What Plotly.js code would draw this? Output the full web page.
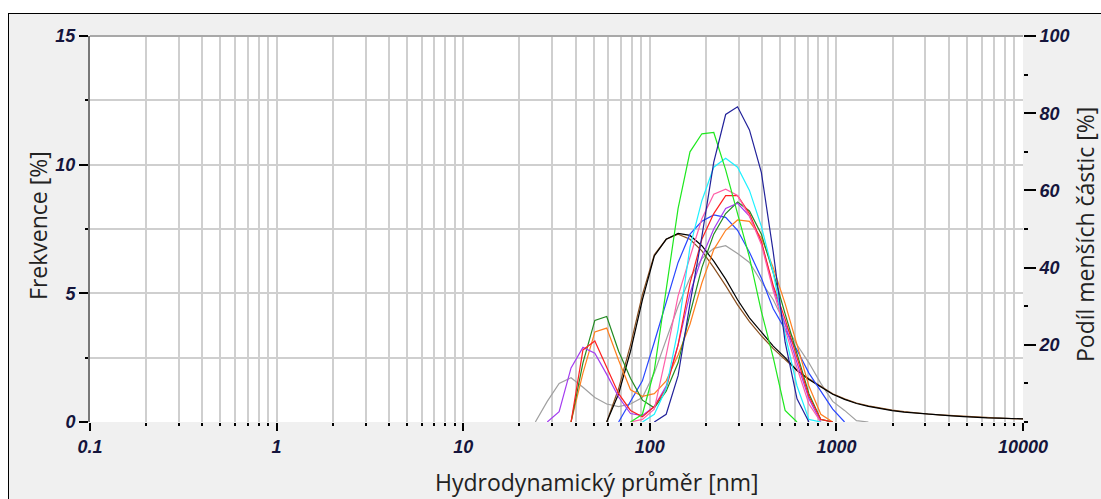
<!DOCTYPE html>
<html>
<head>
<meta charset="utf-8">
<script src="https://cdn.plot.ly/plotly-3.0.1.min.js"></script>
<style>
  html, body { margin:0; padding:0; background:#ffffff; }
  #frame { position:absolute; left:8px; top:13px; width:1100px; height:490px; background:#f0f0f0;
           border-left:1px solid #000; border-top:1px solid #000; }
  #chart { position:absolute; left:0; top:0; width:1101px; height:499px; }
</style>
</head>
<body>
<div id="frame"></div>
<div id="chart"></div>
<script>
// Particle size bins (nm)
const sizes = [21.04, 24.36, 28.21, 32.67, 37.84, 43.82, 50.75, 58.77, 68.06, 78.82,
  91.28, 105.7, 122.4, 141.8, 164.2, 190.1, 220.2, 255.0, 295.3, 342.0,
  396.1, 458.7, 531.2, 615.1, 712.4, 825.0, 955.4, 1106, 1281, 1484,
  1718, 1990, 2305, 2669, 3091, 3580, 4145, 4801, 5560, 6439,
  7456, 8635, 10000];
const _ = null;
// Frequency [%] per series
const navy = [_,_,_,_,_,_,_,_,_,_, _,0,0.3,1.8,4.6,7.2,10.1,11.95,12.25,11.35, 9.7,6.6,3.1,0.9,0,_,_,_,_,_, _,_,_,_,_,_,_,_,_,_, _,_,_];
const lime = [_,_,_,_,_,_,_,_,_,0, 0.3,2.0,5.2,8.3,10.5,11.2,11.25,9.8,8.1,6.4, 4.3,2.5,0.45,0,_,_,_,_,_,_, _,_,_,_,_,_,_,_,_,_, _,_,_];
const cyan = [_,_,_,_,_,_,_,_,_,_, 0,0.3,1.3,3.6,6.8,8.6,9.9,10.25,9.9,9.0, 7.6,5.8,3.4,1.4,0.1,0,_,_,_,_, _,_,_,_,_,_,_,_,_,_, _,_,_];
const pink = [_,_,_,_,_,_,_,_,_,0, 0.1,0.5,2.6,4.9,6.4,7.9,8.85,9.05,8.8,8.0, 6.9,5.1,3.6,2.1,0.7,0,_,_,_,_, _,_,_,_,_,_,_,_,_,_, _,_,_];
const red = [_,_,_,_,0,2.8,3.15,2.15,1.1,0.45, 0.2,0.6,1.3,3.0,5.4,7.1,8.1,8.8,8.8,8.1, 7.0,5.3,4.0,2.5,1.0,0.1,0,_,_,_, _,_,_,_,_,_,_,_,_,_, _,_,_];
const purple = [_,_,0,0.4,2.1,2.9,2.67,1.85,0.97,0.33, 0.25,0.6,1.4,3.0,5.0,6.4,7.5,8.3,8.5,8.0, 7.0,5.2,3.8,2.3,0.9,0,_,_,_,_, _,_,_,_,_,_,_,_,_,_, _,_,_];
const darkGreen = [_,_,_,_,0,2.3,3.95,4.1,2.75,1.7, 0.85,0.55,1.2,2.3,4.2,6.0,7.3,8.1,8.55,8.2, 7.3,5.8,4.2,2.6,1.1,0.1,0,_,_,_, _,_,_,_,_,_,_,_,_,_, _,_,_];
const orange = [_,_,_,_,0,1.9,3.5,3.65,2.4,1.25, 1.0,1.1,1.6,2.6,3.8,5.4,6.7,7.45,7.85,7.8, 7.15,6.0,4.6,3.0,1.4,0.3,0,_,_,_, _,_,_,_,_,_,_,_,_,_, _,_,_];
const blue = [_,_,_,_,_,_,_,_,0,0.8, 1.6,3.1,4.7,6.2,7.3,7.8,8.05,7.95,7.45,6.6, 5.6,4.4,3.6,2.8,1.9,1.2,0.5,0,_,_, _,_,_,_,_,_,_,_,_,_, _,_,_];
const gray = [_,0,0.8,1.5,1.72,1.35,0.95,0.7,0.6,0.7, 0.95,1.9,3.2,4.5,5.6,6.35,6.75,6.85,6.55,6.2, 5.45,4.75,3.8,3.0,2.3,1.5,0.8,0.45,0.05,0, _,_,_,_,_,_,_,_,_,_, _,_,_];
const black = [_,_,_,_,_,_,_,0,1.1,2.75, 4.75,6.45,7.1,7.33,7.25,6.85,6.25,5.55,4.75,4.05, 3.5,2.95,2.5,2.0,1.65,1.35,1.08,0.88,0.72,0.61, 0.52,0.44,0.38,0.34,0.3,0.27,0.24,0.21,0.18,0.16, 0.15,0.13,0.12];
const brown = [_,_,_,_,_,_,_,0,1.3,3.0, 4.95,6.5,7.1,7.3,7.1,6.65,6.0,5.3,4.55,3.9, 3.35,2.85,2.42,2.0,1.68,1.38,1.1,0.9,0.74,0.63, 0.54,0.46,0.4,0.35,0.31,0.28,0.25,0.22,0.19,0.17, 0.15,0.13,0.12];

const seriesList = [
  {y: gray, color: '#a0a0a0'},
  {y: brown, color: '#8a5020'},
  {y: black, color: '#000000'},
  {y: blue, color: '#2846ff'},
  {y: orange, color: '#ff7f1e'},
  {y: darkGreen, color: '#228b22'},
  {y: purple, color: '#a43cf0'},
  {y: red, color: '#ff2020'},
  {y: pink, color: '#ff5fa8'},
  {y: cyan, color: '#1ef0ff'},
  {y: lime, color: '#1ee81e'},
  {y: navy, color: '#22229a'}
];

// Tick labels
const xTickVals = [0.1, 1, 10, 100, 1000, 10000];
const xTickText = ['0.1', '1', '10', '100', '1000', '10000'];
const yTickVals = [0, 5, 10, 15];
const yTickText = ['0', '5', '10', '15'];
const y2TickVals = [20, 40, 60, 80, 100];
const y2TickText = ['20', '40', '60', '80', '100'];

const xMinor = [];
for (const dec of [0.1, 1, 10, 100, 1000]) {
  for (let k = 2; k <= 9; k++) xMinor.push(dec * k);
}

const traces = seriesList.map(s => ({
  x: sizes, y: s.y, type: 'scatter', mode: 'lines',
  line: {color: s.color, width: 1.2}, connectgaps: false, hoverinfo: 'skip'
}));
traces.push({x: [1], y: [0], yaxis: 'y2', type: 'scatter', mode: 'markers',
  marker: {opacity: 0}, hoverinfo: 'skip', showlegend: false});

const tickFont = {family: 'Liberation Sans, Arial, sans-serif', size: 18, color: '#15153c', weight: 'bold', style: 'italic'};
const titleFont = {family: 'Open Sans, Noto Sans, sans-serif', size: 23, color: '#222222'};
const gridC = '#cfcfcf';

const layout = {
  width: 1101, height: 499,
  margin: {l: 90, r: 78, t: 36, b: 77, pad: 0},
  paper_bgcolor: 'rgba(0,0,0,0)',
  plot_bgcolor: '#ffffff',
  showlegend: false,
  xaxis: {
    type: 'log', range: [-1, 4], tickmode: 'array', tickvals: xTickVals, ticktext: xTickText,
    ticks: 'outside', ticklen: 8, tickwidth: 2, tickcolor: '#000000',
    showgrid: true, gridcolor: gridC, gridwidth: 2,
    minor: {tickmode: 'array', tickvals: xMinor, ticks: 'outside', ticklen: 3, tickwidth: 2, tickcolor: '#000000',
            showgrid: true, gridcolor: gridC, gridwidth: 2},
    showline: false, zeroline: false, tickfont: tickFont, automargin: false
  },
  yaxis: {
    range: [0, 15], tickmode: 'array', tickvals: yTickVals, ticktext: yTickText,
    ticks: 'outside', ticklen: 9, tickwidth: 2, tickcolor: '#000000',
    showgrid: true, gridcolor: gridC, gridwidth: 2,
    minor: {tickmode: 'array', tickvals: [2.5, 7.5, 12.5], ticks: 'outside', ticklen: 3, tickwidth: 2, tickcolor: '#000000',
            showgrid: true, gridcolor: gridC, gridwidth: 2},
    showline: true, linecolor: '#787878', linewidth: 2, zeroline: false, tickfont: tickFont, automargin: false
  },
  yaxis2: {
    overlaying: 'y', side: 'right', range: [0, 100], tickmode: 'array', tickvals: y2TickVals, ticktext: y2TickText,
    ticks: 'outside', ticklen: 12, tickwidth: 2, tickcolor: '#000000',
    minor: {tickmode: 'array', tickvals: [0, 10, 30, 50, 70, 90], ticks: 'outside', ticklen: 4, tickwidth: 2, tickcolor: '#000000', showgrid: false},
    showgrid: false, showline: false, zeroline: false, tickfont: tickFont, automargin: false
  },
  shapes: [
    {type: 'line', xref: 'paper', yref: 'paper', x0: 0, x1: 1, y0: 1, y1: 1, line: {color: '#a8a8a8', width: 2}}
  ],
  annotations: [
    {text: 'Frekvence [%]', xref: 'paper', yref: 'paper', x: -0.0557, y: 0.508, showarrow: false,
     textangle: -90, xanchor: 'center', yanchor: 'middle', font: titleFont},
    {text: 'Hydrodynamický průměr [nm]', xref: 'paper', yref: 'paper', x: 0.5434, y: -0.1554, showarrow: false,
     xanchor: 'center', yanchor: 'middle', font: titleFont},
    {text: 'Podíl menších částic [%]', xref: 'paper', yref: 'paper', x: 1.0665, y: 0.4845, showarrow: false,
     textangle: -90, xanchor: 'center', yanchor: 'middle', font: titleFont}
  ]
};

Plotly.newPlot('chart', traces, layout, {displayModeBar: false, staticPlot: true});
</script>
</body>
</html>
